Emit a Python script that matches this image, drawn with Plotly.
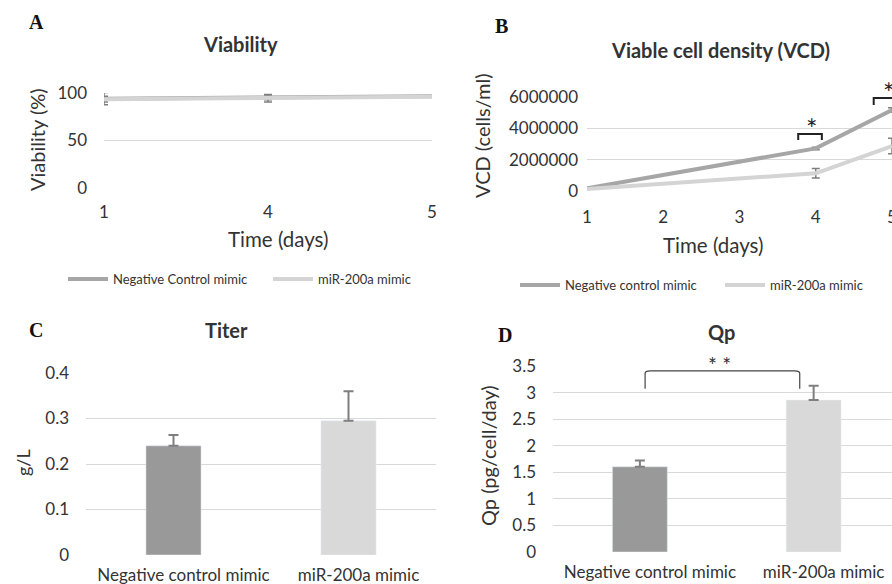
import plotly.graph_objects as go

FONT = "Lato"
TXT = "#333333"
GRID = "#d9d9d9"

# ---- Panel A: viability ----
via_days = ["1", "4", "5"]
via_ctrl = [94, 95, 96.5]
via_ctrl_err = [6.5, 2, 0.5]
via_mir = [93.5, 94.5, 96]
via_mir_err = [3, 4, 0.5]

# ---- Panel B: viable cell density ----
vcd_days = ["1", "2", "3", "4", "5"]
vcd_ctrl = [180000, None, None, 2720000, 5170000]
vcd_ctrl_err = [20000, None, None, 80000, 150000]
vcd_mir = [130000, None, None, 1130000, 2870000]
vcd_mir_err = [20000, None, None, 300000, 500000]

# ---- Panels C/D: bars ----
groups = ["Negative control mimic", "miR-200a mimic"]
titer = [0.24, 0.295]
titer_err = [0.024, 0.065]
qp = [1.605, 2.86]
qp_err = [0.115, 0.27]

CTRL_LINE = "#a6a6a6"
MIR_LINE = "#d4d4d4"
CTRL_BAR = "#999999"
MIR_BAR = "#d9d9d9"
ERR = "#7f7f7f"

W, H = 892, 584
def px(x):
    return x / W
def py(y):
    return 1 - y / H

fig = go.Figure()

# A
fig.add_trace(go.Scatter(x=via_days, y=via_ctrl, mode="lines", name="Negative Control mimic",
                         line=dict(color=CTRL_LINE, width=4),
                         error_y=dict(type="data", array=via_ctrl_err, color=ERR, thickness=1.5, width=4),
                         xaxis="x", yaxis="y", legend="legend", cliponaxis=False))
fig.add_trace(go.Scatter(x=via_days, y=via_mir, mode="lines", name="miR-200a mimic",
                         line=dict(color=MIR_LINE, width=4),
                         error_y=dict(type="data", array=via_mir_err, color=ERR, thickness=1.5, width=4),
                         xaxis="x", yaxis="y", legend="legend", cliponaxis=False))
# B
fig.add_trace(go.Scatter(x=vcd_days, y=vcd_ctrl, mode="lines", name="Negative control mimic",
                         line=dict(color=CTRL_LINE, width=4), connectgaps=True,
                         error_y=dict(type="data", array=vcd_ctrl_err, color=ERR, thickness=1.5, width=4),
                         xaxis="x2", yaxis="y2", legend="legend2"))
fig.add_trace(go.Scatter(x=vcd_days, y=vcd_mir, mode="lines", name="miR-200a mimic",
                         line=dict(color=MIR_LINE, width=4), connectgaps=True,
                         error_y=dict(type="data", array=vcd_mir_err, color=ERR, thickness=1.5, width=4),
                         xaxis="x2", yaxis="y2", legend="legend2"))
# C
fig.add_trace(go.Bar(x=groups, y=titer, marker=dict(color=[CTRL_BAR, MIR_BAR]), width=0.315,
                     error_y=dict(type="data", array=titer_err, arrayminus=[0, 0], symmetric=False,
                                  color=ERR, thickness=2, width=5),
                     xaxis="x3", yaxis="y3", showlegend=False))
# D
fig.add_trace(go.Bar(x=groups, y=qp, marker=dict(color=[CTRL_BAR, MIR_BAR]), width=0.316,
                     error_y=dict(type="data", array=qp_err, arrayminus=[0, 0], symmetric=False,
                                  color=ERR, thickness=2, width=5),
                     xaxis="x4", yaxis="y4", showlegend=False))

tickfont = dict(family=FONT, size=17, color=TXT)
common_x = dict(showgrid=False, showline=False, zeroline=False, ticks="", tickfont=tickfont, type="category")
common_y = dict(showgrid=True, gridcolor=GRID, gridwidth=1, showline=False, zeroline=False, ticks="",
                tickfont=tickfont)

legend_common = dict(orientation="h", xanchor="left", yanchor="middle", itemwidth=40,
                     entrywidthmode="pixels", entrywidth=150,
                     font=dict(family=FONT, size=13, color=TXT), bgcolor="rgba(0,0,0,0)")

fig.update_layout(
    width=W, height=H, margin=dict(l=0, r=0, t=0, b=0, autoexpand=False),
    paper_bgcolor="white", plot_bgcolor="white",
    font=dict(family=FONT, color=TXT),
    xaxis=dict(common_x, domain=[px(104), px(432)], range=[0, 2], anchor="y", ticklabelstandoff=12),
    yaxis=dict(common_y, domain=[py(188), py(93)], range=[0, 100], dtick=50, anchor="x", ticklabelstandoff=16),
    xaxis2=dict(common_x, domain=[px(587), 1.0], range=[0, 4], anchor="y2", ticklabelstandoff=14),
    yaxis2=dict(common_y, domain=[py(191), py(97)], range=[0, 6000000], dtick=2000000, tickformat="d",
                anchor="x2", ticklabelstandoff=8),
    xaxis3=dict(common_x, domain=[px(86), px(436)], range=[-0.5, 1.5], anchor="y3", ticklabelshift=10,
                ticklabelstandoff=8),
    yaxis3=dict(common_y, domain=[py(555), py(373)], range=[0, 0.4], dtick=0.1, anchor="x3",
                ticklabelstandoff=16),
    xaxis4=dict(common_x, domain=[px(553), 1.0], range=[-0.5, 1.451], anchor="y4", ticklabelshift=10,
                ticklabelstandoff=8),
    yaxis4=dict(common_y, domain=[py(552), py(366)], range=[0, 3.5], dtick=0.5, anchor="x4",
                ticklabelstandoff=16),
    legend=dict(legend_common, x=px(63), y=py(279)),
    legend2=dict(legend_common, x=px(515), y=py(285)),
)

ann = []
def add_text(x, y, text, size, bold=False, family=FONT, angle=0, color=TXT):
    ann.append(dict(x=px(x), y=py(y), xref="paper", yref="paper", text=(f"<b>{text}</b>" if bold else text),
                    showarrow=False, xanchor="center", yanchor="middle", textangle=angle,
                    font=dict(family=family, size=size, color=color)))

# panel letters
for lx, ly, t in [(36, 22, "A"), (502, 26, "B"), (36, 330, "C"), (505, 335, "D")]:
    add_text(lx, ly, t, 20, bold=True, family="Liberation Serif", color="#111111")
# titles
add_text(240, 44, "Viability", 20, bold=True)
add_text(720, 50, "Viable cell density (VCD)", 20, bold=True)
add_text(226, 330, "Titer", 20, bold=True)
add_text(721, 332, "Qp", 20, bold=True)
# axis titles
add_text(278, 239, "Time (days)", 20.5)
add_text(713, 245, "Time (days)", 20.5)
add_text(37, 140, "Viability (%)", 20, angle=-90)
add_text(482, 136, "VCD (cells/ml)", 20, angle=-90)
add_text(23, 463, "g/L", 18, angle=-90)
add_text(488, 456, "Qp (pg/cell/day)", 20, angle=-90)

# significance markers (data coordinates)
sig_b = [(2.77, 3.08, 3.64e6, 3.25e6), (3.76, 4.3, 5.93e6, 5.49e6)]
shapes = []
for x0, x1, ytop, yleg in sig_b:
    shapes.append(dict(type="path", xref="x2", yref="y2",
                       path=f"M {x0},{yleg} L {x0},{ytop} L {x1},{ytop} L {x1},{yleg}",
                       line=dict(color="#222222", width=2)))
    ann.append(dict(x=(x0 + min(x1, 4.1)) / 2 + 0.02, y=ytop, xref="x2", yref="y2", text="*", showarrow=False,
                    yanchor="bottom", yshift=-13, font=dict(family=FONT, size=27, color="#222222")))
shapes.append(dict(type="path", xref="x4", yref="y4",
                   path="M 0.03,3.07 L 0.03,3.36 Q 0.03,3.41 0.06,3.41 L 0.89,3.41 Q 0.92,3.41 0.92,3.36 L 0.92,3.07",
                   line=dict(color="#444444", width=1.2)))
ann.append(dict(x=0.457, y=3.41, xref="x4", yref="y4", text="* *", showarrow=False, yanchor="bottom",
                yshift=-8, font=dict(family=FONT, size=21, color="#333333")))

fig.update_layout(annotations=ann, shapes=shapes)
fig.write_html("out.html", config={"displayModeBar": False},
               post_script="document.body.style.margin='0';document.body.style.overflow='hidden';")
